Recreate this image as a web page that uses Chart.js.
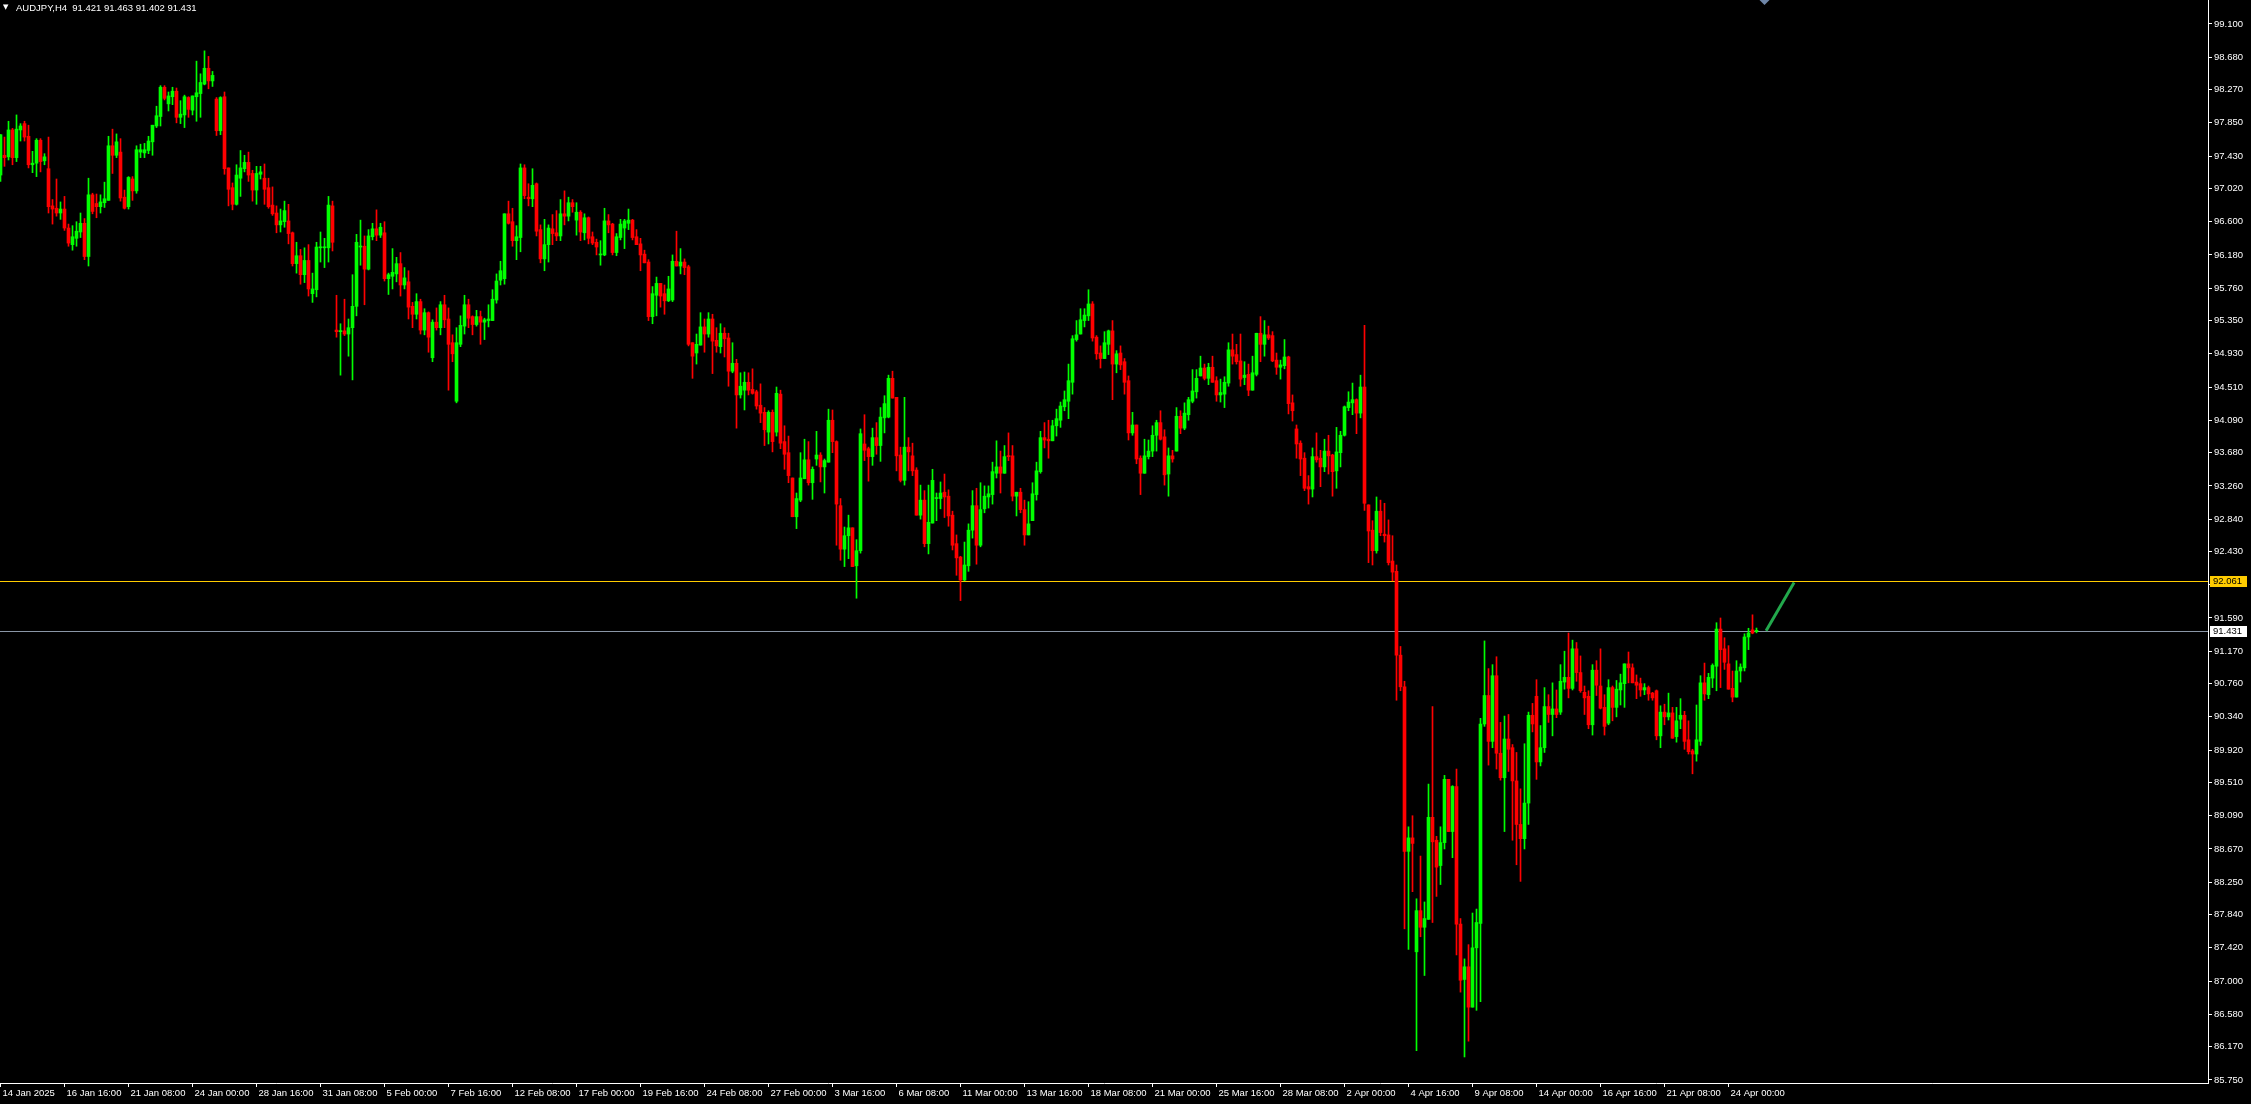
<!DOCTYPE html>
<html><head><meta charset="utf-8">
<script src="https://cdn.jsdelivr.net/npm/chart.js@4/dist/chart.umd.min.js"></script>
<style>
html,body{margin:0;padding:0;background:#000;overflow:hidden;}
#wrap{position:relative;width:2251px;height:1104px;background:#000;}
#c{position:absolute;left:0;top:0;}
#hdr{position:absolute;left:16px;top:2px;color:#fff;font:9.5px "Liberation Sans",Arial,sans-serif;white-space:pre;line-height:11px;}
#tri{position:absolute;left:3px;top:2px;color:#fff;font:7px "DejaVu Sans",sans-serif;line-height:11px;}
</style></head><body>
<div id="wrap"><canvas id="c" width="2251" height="1104"></canvas><div id="tri">▼</div><div id="hdr">AUDJPY,H4  91.421 91.463 91.402 91.431</div></div>
<script>
// ---- data (AUDJPY H4 candles, one per bar, bar 0 = 14 Jan 2025 00:00) ----
const opens = [
97.19,97.44,97.42,97.76,97.41,97.76,97.84,97.68,97.32,97.34,
97.63,97.37,97.27,96.80,96.77,96.71,96.76,96.52,96.31,96.39,
96.47,96.58,96.16,96.94,96.83,96.79,96.84,96.87,97.56,97.44,
97.48,96.91,96.79,97.14,96.99,97.48,97.47,97.50,97.61,97.81,
97.93,98.30,98.09,98.18,98.25,97.92,97.95,98.17,98.01,98.18,
98.22,98.34,98.54,98.38,98.15,97.75,98.18,97.28,97.03,96.82,
97.15,97.27,97.35,97.21,97.00,97.20,97.15,97.03,96.81,96.71,
96.56,96.60,96.61,96.46,96.07,96.17,95.93,96.11,95.69,95.74,
96.27,96.27,96.27,96.80,95.23,95.21,95.22,95.18,95.26,95.53,
96.28,96.29,96.00,96.41,96.51,96.43,96.46,95.88,95.91,95.94,
96.07,95.80,95.84,95.53,95.43,95.59,95.23,95.45,94.88,95.33,
95.26,95.55,95.37,95.07,94.33,95.05,95.28,95.55,95.40,95.30,
95.40,95.33,95.35,95.35,95.61,95.86,95.88,96.70,96.60,96.36,
96.40,97.28,96.91,96.89,97.08,96.50,96.13,96.31,96.51,96.46,
96.42,96.70,96.67,96.84,96.62,96.72,96.46,96.65,96.41,96.34,
96.18,96.18,96.61,96.57,96.21,96.40,96.52,96.58,96.62,96.41,
96.32,96.19,96.09,95.40,95.67,95.82,95.69,95.60,95.61,96.10,
96.04,96.09,96.03,95.07,94.94,95.04,95.27,95.18,95.37,95.10,
95.02,95.19,95.13,94.71,94.81,94.41,94.47,94.57,94.48,94.45,
94.28,94.19,93.94,94.19,93.94,94.42,93.82,93.68,93.36,92.87,
93.08,93.35,93.59,93.30,93.60,93.65,93.50,93.56,94.09,93.82,
93.01,92.46,92.63,92.73,92.25,92.44,93.79,93.73,93.63,93.87,
93.77,94.12,94.13,94.62,94.38,93.65,93.33,93.75,93.64,93.46,
92.89,93.08,92.53,92.79,93.10,93.10,93.18,93.13,92.89,92.53,
92.36,92.07,92.25,92.70,93.01,92.51,92.97,93.12,93.15,93.42,
93.50,93.42,93.64,93.64,93.13,93.18,92.96,92.64,92.82,93.15,
93.44,93.87,93.85,93.83,94.02,94.09,94.26,94.33,94.57,95.11,
95.18,95.35,95.41,95.56,95.14,94.94,94.87,95.05,95.22,94.80,
94.94,94.83,94.59,93.93,94.03,93.61,93.42,93.63,93.70,93.90,
94.06,93.88,93.41,93.64,93.70,94.14,93.99,94.16,94.33,94.45,
94.65,94.75,94.62,94.76,94.59,94.41,94.42,94.56,94.98,94.92,
94.84,94.63,94.67,94.47,94.67,95.19,95.05,95.17,95.16,94.85,
94.76,94.78,94.89,94.31,93.98,93.80,93.61,93.25,93.22,93.63,
93.61,93.50,93.70,93.65,93.45,93.68,93.90,94.25,94.31,94.35,
94.18,94.51,93.02,92.70,92.44,92.94,92.65,92.64,92.31,92.18,
91.12,90.72,88.64,88.81,87.37,87.89,87.68,87.78,89.07,88.78,
88.46,88.75,89.55,88.89,89.46,87.72,87.02,87.18,86.67,87.42,
87.73,90.25,90.61,90.03,90.86,89.88,89.57,90.06,89.95,89.53,
88.98,88.80,89.25,90.36,90.60,89.77,89.95,90.47,90.37,90.44,
90.40,90.78,90.84,90.70,91.20,90.90,90.65,90.60,90.24,90.93,
90.73,90.46,90.26,90.71,90.46,90.68,90.76,91.01,90.96,90.78,
90.76,90.68,90.71,90.64,90.67,90.10,90.40,90.34,90.39,90.09,
90.31,90.36,90.05,89.91,89.87,90.03,90.77,90.62,90.83,90.98,
91.45,91.20,91.01,90.70,90.59,90.92,90.96,91.35,91.44,91.421];
const highs = [
97.70,97.67,97.87,97.78,97.95,97.84,97.87,97.82,97.49,97.65,
97.65,97.46,97.67,96.88,97.14,96.85,96.92,96.57,96.55,96.60,
96.71,96.64,97.15,96.96,96.95,96.94,97.10,97.68,97.77,97.71,
97.65,97.00,97.17,97.17,97.56,97.58,97.59,97.68,97.82,98.06,
98.32,98.32,98.24,98.30,98.29,98.13,98.20,98.18,98.19,98.63,
98.47,98.76,98.69,98.50,98.17,98.18,98.24,97.28,97.09,97.32,
97.50,97.44,97.48,97.25,97.30,97.30,97.33,97.15,97.04,96.80,
96.76,96.86,96.82,96.47,96.34,96.25,96.27,96.31,95.95,96.34,
96.47,96.39,96.92,96.86,95.67,95.31,95.62,95.37,95.93,96.44,
96.62,96.42,96.50,96.58,96.75,96.58,96.60,95.95,96.26,96.15,
96.21,96.02,95.98,95.58,95.69,95.62,95.50,95.46,95.36,95.51,
95.59,95.67,95.51,95.17,95.26,95.41,95.67,95.62,95.41,95.48,
95.47,95.38,95.55,95.74,95.94,96.10,96.70,96.86,96.77,96.55,
97.33,97.32,97.08,97.27,97.09,96.56,96.63,96.56,96.69,96.74,
96.88,96.99,96.91,96.88,96.84,96.74,96.70,96.66,96.47,96.38,
96.36,96.77,96.69,96.58,96.45,96.63,96.63,96.76,96.63,96.50,
96.39,96.24,96.12,95.78,95.90,95.82,95.80,95.91,96.18,96.48,
96.26,96.13,96.05,95.07,95.18,95.45,95.37,95.45,95.43,95.26,
95.31,95.26,95.19,95.07,94.86,94.69,94.70,94.69,94.74,94.47,
94.55,94.25,94.21,94.22,94.51,94.47,94.02,93.89,93.36,93.17,
93.68,93.85,93.82,93.50,93.95,93.68,93.60,94.23,94.22,93.83,
93.10,92.74,92.89,92.73,92.58,93.98,94.16,93.75,93.99,94.06,
94.25,94.40,94.66,94.71,94.38,93.75,94.38,93.87,93.80,93.49,
93.27,93.20,93.27,93.47,93.17,93.31,93.41,93.21,92.94,92.64,
92.37,92.55,92.78,93.20,93.23,93.30,93.26,93.26,93.56,93.83,
93.70,93.77,93.93,93.77,93.18,93.23,93.08,93.06,93.30,93.56,
93.95,94.06,94.09,94.09,94.23,94.32,94.46,94.80,95.16,95.35,
95.50,95.50,95.74,95.59,95.16,95.03,95.21,95.23,95.35,94.97,
95.03,94.87,94.65,94.19,94.03,93.64,93.85,93.84,94.02,94.09,
94.21,93.97,93.74,93.71,94.25,94.21,94.31,94.38,94.73,94.73,
94.90,94.80,94.81,94.90,94.64,94.61,94.64,95.07,95.18,95.05,
95.18,94.83,94.80,94.90,95.19,95.40,95.35,95.28,95.21,94.94,
94.85,95.11,94.90,94.41,94.03,93.83,93.68,93.39,93.74,93.93,
93.71,93.85,93.90,93.66,94.00,93.95,94.27,94.45,94.56,94.36,
94.66,95.29,93.02,92.82,93.12,93.08,93.04,92.83,92.63,92.26,
91.23,90.79,88.95,89.09,88.04,88.58,88.00,89.49,90.47,88.83,
88.95,89.60,89.55,89.47,89.68,87.79,87.28,87.46,87.86,87.91,
90.32,91.30,90.95,91.00,91.10,90.27,90.35,90.37,89.99,89.89,
89.43,90.00,90.40,90.51,90.81,90.23,90.71,90.62,90.77,90.68,
91.00,91.17,91.40,91.31,91.28,91.11,90.73,90.67,91.00,91.05,
91.20,90.62,90.81,90.73,90.80,90.88,91.01,91.16,91.01,90.87,
90.83,90.76,90.73,90.65,90.68,90.48,90.50,90.64,90.46,90.46,
90.57,90.41,90.29,89.93,90.49,90.86,91.02,90.89,91.01,91.53,
91.59,91.34,91.24,90.92,91.05,91.01,91.39,91.46,91.63,91.463];
const lows = [
97.11,97.30,97.38,97.32,97.36,97.62,97.62,97.28,97.22,97.17,
97.23,97.32,96.71,96.57,96.67,96.63,96.49,96.29,96.24,96.29,
96.40,96.12,96.04,96.70,96.65,96.71,96.78,96.87,97.21,97.41,
96.86,96.76,96.76,96.87,96.96,97.41,97.41,97.46,97.44,97.79,
97.81,98.14,98.00,98.08,97.85,97.84,97.79,97.92,97.95,97.87,
97.92,98.33,98.28,98.31,97.69,97.70,97.20,96.80,96.75,96.81,
96.92,97.23,97.11,96.86,96.82,97.14,96.82,96.77,96.68,96.46,
96.47,96.53,96.32,96.04,95.95,95.81,95.83,95.66,95.58,95.65,
96.09,96.02,96.09,96.23,95.14,94.66,95.16,94.90,94.60,95.41,
96.05,95.55,95.99,96.37,96.36,96.40,95.85,95.68,95.75,95.84,
95.66,95.75,95.37,95.26,95.37,95.18,95.17,94.95,94.83,95.23,
95.17,95.26,94.47,94.83,94.31,95.02,95.18,95.26,95.17,95.28,
95.05,95.11,95.27,95.35,95.57,95.80,95.81,96.57,96.29,96.12,
96.22,96.89,96.80,96.79,96.42,96.08,95.98,96.09,96.31,96.36,
96.36,96.56,96.61,96.72,96.43,96.36,96.37,96.32,96.31,96.18,
96.05,96.17,96.46,96.18,96.17,96.37,96.26,96.50,96.37,96.31,
95.98,96.08,95.35,95.31,95.41,95.52,95.43,95.59,95.59,96.04,
95.94,95.93,95.03,94.62,94.80,95.04,94.95,95.14,94.68,94.95,
94.94,94.89,94.52,94.69,93.99,94.37,94.22,94.41,94.42,94.23,
94.06,93.77,93.79,93.69,93.89,93.73,93.47,93.30,92.87,92.72,
93.06,93.35,93.27,93.09,93.52,93.31,93.17,93.56,93.68,92.51,
92.32,92.24,92.34,92.24,91.84,92.41,93.58,93.32,93.52,93.66,
93.57,93.93,94.12,94.37,93.45,93.31,93.27,93.45,93.39,92.89,
92.84,92.49,92.40,92.79,92.82,92.97,92.86,92.75,92.45,92.13,
91.81,92.06,92.18,92.60,92.27,92.49,92.92,92.98,93.03,93.36,
93.17,93.42,93.58,93.07,92.88,92.92,92.51,92.64,92.82,93.08,
93.42,93.74,93.61,93.83,93.89,94.00,94.21,94.11,94.42,95.09,
95.18,95.27,95.35,95.09,94.86,94.75,94.87,94.92,94.35,94.69,
94.73,94.42,93.84,93.90,93.54,93.15,93.42,93.60,93.63,93.70,
93.84,93.27,93.13,93.56,93.70,93.92,93.97,94.09,94.31,94.37,
94.65,94.60,94.54,94.57,94.33,94.32,94.25,94.52,94.80,94.80,
94.52,94.54,94.40,94.47,94.65,94.83,94.90,95.11,94.83,94.67,
94.61,94.74,94.17,94.08,93.61,93.39,93.20,93.03,93.12,93.56,
93.25,93.44,93.41,93.13,93.23,93.50,93.89,94.21,94.16,93.92,
94.12,92.95,92.29,92.26,92.41,92.63,92.55,92.26,92.06,90.55,
90.67,87.66,87.40,88.13,86.12,87.56,87.07,87.78,87.74,88.07,
88.22,88.67,88.89,88.56,87.33,86.86,86.04,86.24,86.67,86.63,
86.74,90.22,89.73,89.95,89.68,89.54,88.89,89.65,88.78,88.47,
88.26,88.67,88.98,90.15,89.55,89.72,89.89,90.27,90.10,90.33,
90.37,90.69,90.58,90.68,90.79,90.65,90.37,90.19,90.11,90.61,
90.44,90.11,90.24,90.29,90.34,90.49,90.46,90.77,90.77,90.57,
90.60,90.62,90.55,90.55,90.05,89.95,90.24,90.30,90.07,90.02,
90.19,89.93,89.87,89.62,89.78,89.98,90.55,90.57,90.71,90.67,
90.71,90.94,90.69,90.53,90.59,90.78,90.92,91.19,91.39,91.402];
const closes = [
97.70,97.41,97.76,97.41,97.77,97.81,97.67,97.32,97.34,97.63,
97.36,97.42,96.79,96.76,96.71,96.76,96.52,96.33,96.41,96.48,
96.58,96.16,96.94,96.73,96.79,96.85,96.89,97.56,97.44,97.61,
96.90,96.77,97.16,96.99,97.51,97.51,97.51,97.62,97.82,97.94,
98.30,98.16,98.19,98.25,97.92,97.96,98.18,98.02,98.19,98.23,
98.36,98.54,98.38,98.45,97.75,98.17,97.27,97.01,96.82,97.19,
97.28,97.35,97.19,97.00,97.21,97.23,97.01,96.79,96.70,96.56,
96.61,96.74,96.45,96.07,96.17,95.93,96.11,95.75,95.75,96.28,
96.28,96.28,96.81,96.34,95.21,95.22,95.18,95.26,95.53,96.34,
96.29,96.00,96.42,96.51,96.43,96.53,95.88,95.93,95.96,96.07,
95.80,95.89,95.52,95.43,95.59,95.23,95.45,95.14,95.33,95.26,
95.55,95.36,95.05,94.93,95.07,95.29,95.55,95.38,95.30,95.40,
95.33,95.36,95.37,95.62,95.85,95.98,96.70,96.58,96.36,96.41,
97.28,96.93,96.89,97.06,96.48,96.13,96.31,96.52,96.45,96.42,
96.70,96.67,96.84,96.79,96.72,96.47,96.65,96.39,96.33,96.28,
96.19,96.61,96.56,96.21,96.41,96.57,96.61,96.62,96.40,96.31,
96.18,96.08,95.40,95.69,95.82,95.66,95.60,95.75,96.10,96.04,
96.09,96.02,95.05,94.90,95.05,95.27,95.18,95.37,95.09,95.03,
95.19,95.12,94.71,94.81,94.41,94.52,94.57,94.47,94.43,94.27,
94.18,93.97,94.19,93.82,94.43,93.80,93.66,93.39,92.87,93.10,
93.36,93.59,93.30,93.47,93.65,93.50,93.58,94.09,93.82,93.03,
92.46,92.63,92.73,92.24,92.44,93.92,93.71,93.63,93.87,93.77,
94.13,94.30,94.62,94.37,93.64,93.33,93.75,93.69,93.45,92.89,
93.08,92.53,92.80,93.33,93.11,93.17,93.12,92.88,92.51,92.35,
92.07,92.26,92.70,93.01,92.51,92.96,93.13,93.16,93.44,93.50,
93.42,93.63,93.63,93.13,93.18,92.96,92.64,92.78,93.16,93.45,
93.87,93.84,93.83,94.02,94.11,94.27,94.35,94.59,95.12,95.17,
95.36,95.42,95.56,95.13,94.93,94.87,95.07,95.22,94.80,94.93,
94.79,94.57,93.93,94.03,93.60,93.42,93.64,93.70,93.90,94.06,
93.85,93.40,93.64,93.60,94.14,93.99,94.18,94.35,94.46,94.62,
94.75,94.62,94.76,94.57,94.41,94.44,94.57,94.98,94.90,94.83,
94.61,94.66,94.47,94.69,95.19,95.05,95.17,95.13,94.84,94.76,
94.79,94.89,94.30,94.21,93.79,93.60,93.23,93.22,93.63,93.59,
93.50,93.70,93.64,93.44,93.69,93.90,94.26,94.32,94.35,94.18,
94.51,93.04,92.69,92.44,92.94,92.67,92.63,92.29,92.17,91.12,
90.72,88.64,88.81,88.74,87.89,87.68,87.79,89.07,88.76,88.44,
88.75,89.55,88.89,89.46,87.72,87.01,87.18,86.67,87.42,87.74,
90.25,90.61,90.03,90.86,89.88,89.57,90.06,89.93,89.53,88.98,
88.80,89.25,90.36,90.25,89.77,89.95,90.47,90.37,90.44,90.37,
90.79,90.84,90.70,91.20,90.90,90.67,90.58,90.24,90.93,90.74,
90.45,90.22,90.71,90.46,90.69,90.77,91.01,90.96,90.77,90.74,
90.68,90.71,90.63,90.58,90.10,90.40,90.34,90.39,90.07,90.29,
90.36,90.03,89.90,89.87,90.05,90.77,90.63,90.84,90.99,91.45,
91.19,91.03,90.69,90.59,90.92,90.97,91.35,91.40,91.40,91.431];

const xTickLabels = ['14 Jan 2025','16 Jan 16:00','21 Jan 08:00','24 Jan 00:00','28 Jan 16:00','31 Jan 08:00',
 '5 Feb 00:00','7 Feb 16:00','12 Feb 08:00','17 Feb 00:00','19 Feb 16:00','24 Feb 08:00','27 Feb 00:00',
 '3 Mar 16:00','6 Mar 08:00','11 Mar 00:00','13 Mar 16:00','18 Mar 08:00','21 Mar 00:00','25 Mar 16:00',
 '28 Mar 08:00','2 Apr 00:00','4 Apr 16:00','9 Apr 08:00','14 Apr 00:00','16 Apr 16:00','21 Apr 08:00','24 Apr 00:00'];
const xTickEvery = 16; // bars between time labels
const yTickValues = [99.100,98.680,98.270,97.850,97.430,97.020,96.600,96.180,95.760,95.350,94.930,94.510,
 94.090,93.680,93.260,92.840,92.430,92.010,91.590,91.170,90.760,90.340,89.920,89.510,89.090,88.670,
 88.250,87.840,87.420,87.000,86.580,86.170,85.750];
const priceMax = 99.403, priceMin = 85.711;
const barSlots = 552;               // visible bar slots incl. right shift
const levelLine = 92.061;           // horizontal line (yellow)
const bidLine = 91.431;             // current bid
const trendX = [441.4, 448.4];
const trendY = [91.43, 92.04];
const shiftMarkerX = 441;

// ---- chart ----
const UP = '#00ff00', DN = '#ff0000';
const candleColors = opens.map((o, i) => closes[i] >= o ? UP : DN);
const FONT = {family: '"Liberation Sans",Arial,sans-serif', size: 9.5};

const levelsPlugin = {
  id: 'levels',
  beforeDatasetsDraw(chart) {
    const {ctx, chartArea, scales: {y}} = chart;
    [[levelLine, '#ffcc00'], [bidLine, '#8a96a6']].forEach(([v, col]) => {
      const py = Math.round(y.getPixelForValue(v)) + 0.5;
      ctx.save();
      ctx.strokeStyle = col; ctx.lineWidth = 1;
      ctx.beginPath(); ctx.moveTo(chartArea.left, py); ctx.lineTo(chartArea.right, py); ctx.stroke();
      ctx.restore();
    });
  },
  afterDraw(chart) {
    const {ctx, chartArea, scales: {y}} = chart;
    [[levelLine, '#ffcc00'], [bidLine, '#ffffff']].forEach(([v, col]) => {
      const py = Math.round(y.getPixelForValue(v));
      const x0 = chartArea.right + 2;
      ctx.save();
      ctx.fillStyle = col;
      ctx.fillRect(x0, py - 5, 37, 11);
      ctx.fillStyle = '#000';
      ctx.font = FONT.size + 'px ' + FONT.family;
      ctx.textBaseline = 'middle';
      ctx.textAlign = 'left';
      ctx.fillText(v.toFixed(3), x0 + 3, py + 0.5);
      ctx.restore();
    });
  }
};

new Chart(document.getElementById('c'), {
  type: 'bar',
  data: {
    datasets: [
      {label: 'wick', data: lows.map((l, i) => ({x: i, y: [l, highs[i]]})),
       backgroundColor: candleColors, barThickness: 1, grouped: false, minBarLength: 1, order: 3},
      {label: 'body', data: opens.map((o, i) => ({x: i, y: [o, closes[i]]})),
       backgroundColor: candleColors, barThickness: 3, grouped: false, minBarLength: 1, order: 2},
      {type: 'line', label: 'trend', data: trendX.map((x, k) => ({x, y: trendY[k]})),
       borderColor: '#22a84c', borderWidth: 3, pointRadius: 0, order: 1},
      {type: 'line', label: 'shift', data: [{x: shiftMarkerX, y: priceMax}], showLine: false,
       pointStyle: 'rectRot', pointRadius: 5, backgroundColor: '#6f86a8', borderWidth: 0, order: 0}
    ]
  },
  options: {
    responsive: false, animation: false, devicePixelRatio: 1,
    layout: {padding: 0, autoPadding: false},
    plugins: {legend: {display: false}, tooltip: {enabled: false}},
    scales: {
      x: {
        type: 'linear', min: -0.125, max: barSlots - 0.125, offset: false,
        grid: {display: true, offset: false, drawOnChartArea: false, drawTicks: true, tickLength: 4, color: '#ffffff'},
        border: {display: true, color: '#ffffff', width: 1},
        ticks: {color: '#ffffff', font: FONT, autoSkip: false, maxRotation: 0, minRotation: 0,
                align: 'start', labelOffset: 2, padding: 1,
                callback: v => xTickLabels[Math.round(v / xTickEvery)] ?? ''},
        afterBuildTicks: s => { s.ticks = xTickLabels.map((t, k) => ({value: k * xTickEvery})); },
        afterFit: s => { s.height = 21; s.paddingLeft = 0; s.paddingRight = 0; }
      },
      y: {
        type: 'linear', position: 'right', min: priceMin, max: priceMax,
        grid: {display: true, drawOnChartArea: false, drawTicks: true, tickLength: 4, color: '#ffffff'},
        border: {display: true, color: '#ffffff', width: 1},
        ticks: {color: '#ffffff', font: FONT, autoSkip: false, padding: 2, callback: v => v.toFixed(3)},
        afterBuildTicks: s => { s.ticks = yTickValues.map(v => ({value: v})); },
        afterFit: s => { s.width = 43; s.paddingTop = 0; s.paddingBottom = 0; }
      }
    }
  },
  plugins: [levelsPlugin]
});
</script>
</body></html>
